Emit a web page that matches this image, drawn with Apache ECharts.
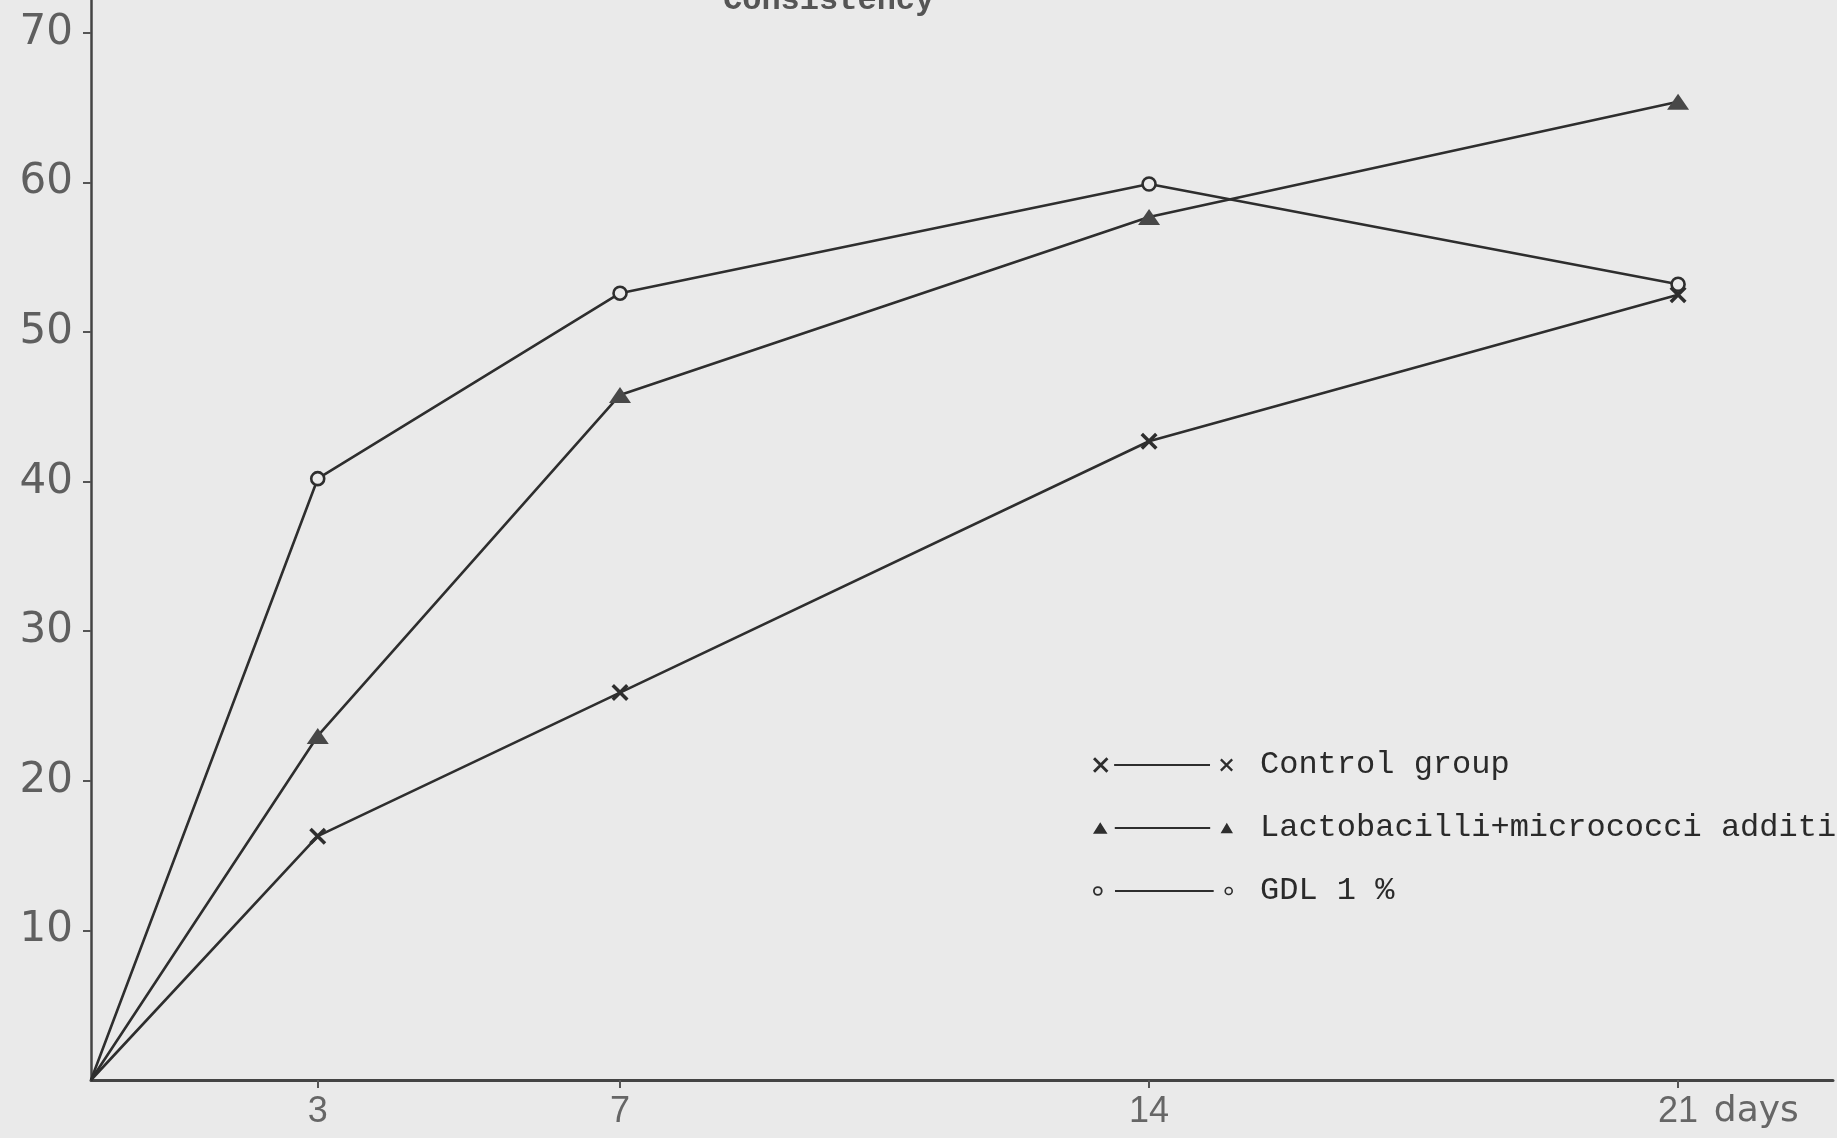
<!DOCTYPE html>
<html>
<head>
<meta charset="utf-8">
<script src="https://cdn.jsdelivr.net/npm/echarts@6/dist/echarts.min.js"></script>
<style>
  html, body { margin: 0; padding: 0; background: #eaeaea; }
  #chart { width: 1837px; height: 1138px; }
</style>
</head>
<body>
<div id="chart"></div>
<script>
// data
const days = [0, 3, 7, 14, 21];
const dayTicks = [3, 7, 14, 21];
const yTicks = [10, 20, 30, 40, 50, 60, 70];
const control = [0, 16.3, 25.9, 42.7, 52.5];
const lacto = [0, 23.0, 45.8, 57.7, 65.4];
const gdl = [0, 40.2, 52.6, 59.9, 53.2];
const names = ['Control group', 'Lactobacilli+micrococci addition', 'GDL 1 %'];

const ink = '#2e2e2e';
const paper = '#eaeaea';

// little path helpers for the typewriter style markers
function cross(cx, cy, h, t) {
  const d = t * 0.7071;
  const p = [[cx - h + d, cy - h - d], [cx + h + d, cy + h - d], [cx + h - d, cy + h + d], [cx - h - d, cy - h + d]];
  const q = [[cx - h - d, cy + h - d], [cx + h - d, cy - h - d], [cx + h + d, cy - h + d], [cx - h + d, cy + h + d]];
  const poly = pts => 'M' + pts.map(a => a[0].toFixed(2) + ',' + a[1].toFixed(2)).join('L') + 'Z';
  return poly(p) + poly(q);
}
function tri(cx, cy, w, h) {
  return `M${cx},${cy - h}L${cx + w},${cy + h}L${cx - w},${cy + h}Z`;
}
function ring(cx, cy, r, ri) {
  return `M${cx - r},${cy}A${r},${r} 0 1 1 ${cx + r},${cy}A${r},${r} 0 1 1 ${cx - r},${cy}Z` +
         `M${cx - ri},${cy}A${ri},${ri} 0 1 0 ${cx + ri},${cy}A${ri},${ri} 0 1 0 ${cx - ri},${cy}Z`;
}
function bar(x1, x2, cy, t) {
  return `M${x1},${cy - t}L${x2},${cy - t}L${x2},${cy + t}L${x1},${cy + t}Z`;
}

const icons = [
  'path://' + cross(8, 8, 6.5, 1.4) + bar(21, 114, 8, 1) + cross(130, 8, 5.5, 1.1),
  'path://' + tri(8, 8, 7, 5.5) + bar(22, 114, 8, 1) + tri(130, 8, 6, 5),
  'path://' + ring(6, 8, 4.5, 2.8) + bar(22, 114, 8, 1) + ring(128, 8, 4, 2.5)
];

function pts(vals) {
  return days.map((d, i) => i === 0 ? { value: [d, vals[i]], symbol: 'none' } : [d, vals[i]]);
}

const chart = echarts.init(document.getElementById('chart'));
chart.setOption({
  backgroundColor: paper,
  animation: false,
  title: {
    text: 'Consistency',
    left: 718,
    top: -20,
    textStyle: { fontFamily: 'Liberation Mono', fontSize: 32, fontWeight: 'bold', color: '#555' }
  },
  legend: {
    orient: 'vertical',
    left: 1088,
    top: 744,
    itemWidth: 140,
    itemHeight: 20,
    itemGap: 31,
    selectedMode: false,
    itemStyle: { color: ink, borderWidth: 0 },
    textStyle: { fontFamily: 'Liberation Mono', fontSize: 32, lineHeight: 32, color: '#2a2a2a', padding: [0, 0, 0, 22] },
    data: names.map((n, i) => ({ name: n, icon: icons[i] }))
  },
  grid: { left: 91, right: 4, top: 0, bottom: 58, outerBoundsMode: 'none' },
  xAxis: {
    type: 'value',
    min: 0,
    max: 23.05,
    splitLine: { show: false },
    axisLine: { lineStyle: { color: '#444', width: 3 } },
    axisTick: { customValues: dayTicks, length: 8, lineStyle: { color: '#555', width: 2 } },
    axisLabel: {
      customValues: dayTicks,
      margin: 14,
      fontFamily: 'Liberation Sans',
      fontSize: 36,
      color: '#666',
      formatter: v => v === 21 ? '{p|}{n|21}{d| days}' : String(v),
      rich: {
        p: { width: 105 },
        n: { fontSize: 36, fontFamily: 'Liberation Sans', color: '#666' },
        d: { width: 105, align: 'left', fontSize: 36, fontFamily: 'DejaVu Sans', color: '#666' }
      }
    }
  },
  yAxis: {
    type: 'value',
    min: 0,
    max: 72.2,
    splitLine: { show: false },
    axisLine: { show: true, lineStyle: { color: '#444', width: 2.5 } },
    axisTick: { show: true, customValues: yTicks, length: 8, lineStyle: { color: '#555', width: 2 } },
    axisLabel: {
      customValues: yTicks,
      margin: 18,
      fontFamily: 'DejaVu Sans',
      fontSize: 42,
      color: '#5f5f5f'
    }
  },
  series: [
    {
      name: names[0],
      type: 'line',
      data: pts(control),
      symbol: 'path://' + cross(5, 5, 5, 1.2),
      symbolSize: 17,
      itemStyle: { color: ink },
      lineStyle: { color: ink, width: 2.6 }
    },
    {
      name: names[1],
      type: 'line',
      data: pts(lacto),
      symbol: 'triangle',
      symbolSize: [22, 16],
      itemStyle: { color: '#484848' },
      lineStyle: { color: ink, width: 2.6 }
    },
    {
      name: names[2],
      type: 'line',
      data: pts(gdl),
      symbol: 'circle',
      symbolSize: 13,
      itemStyle: { color: paper, borderColor: ink, borderWidth: 2.6 },
      lineStyle: { color: ink, width: 2.6 }
    }
  ]
});
</script>
</body>
</html>
